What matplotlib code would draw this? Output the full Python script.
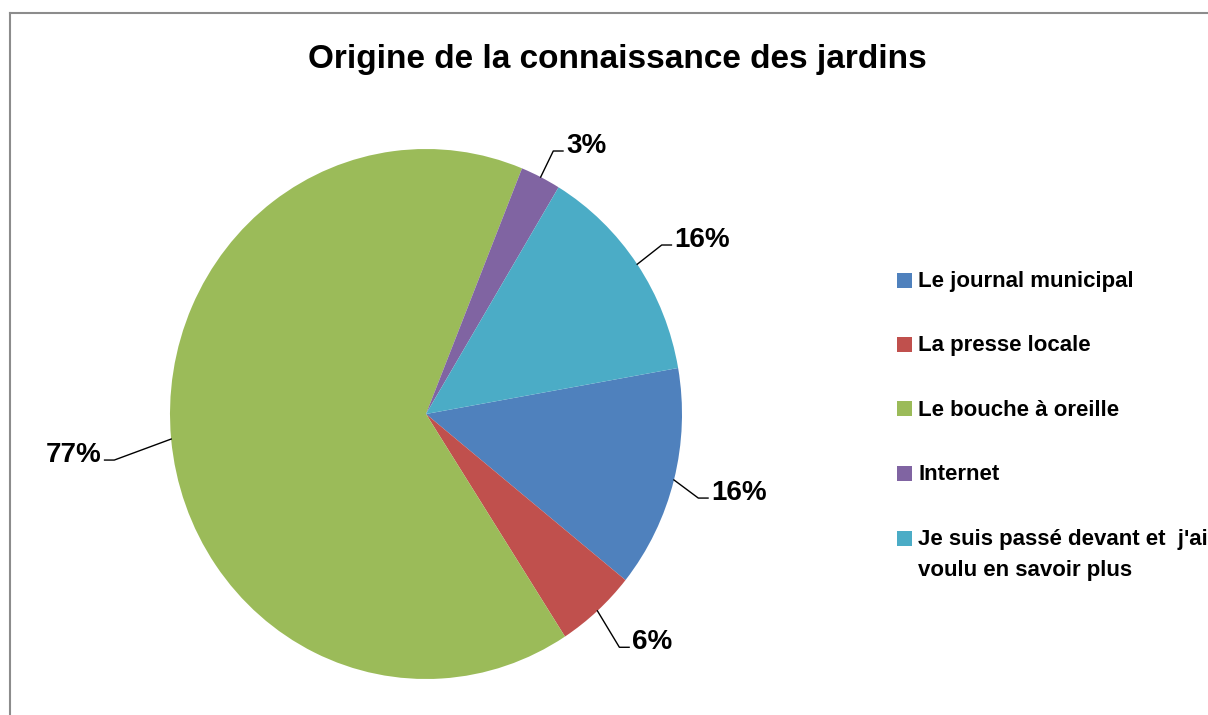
import matplotlib
matplotlib.use("Agg")
import matplotlib.pyplot as plt
from matplotlib import font_manager
from matplotlib.patches import Rectangle
from matplotlib.lines import Line2D
import numpy as np

title = "Origine de la connaissance des jardins"
categories = ["Le journal municipal", "La presse locale", "Le bouche à oreille",
              "Internet", "Je suis passé devant et  j'ai\nvoulu en savoir plus"]
percents = [16, 6, 77, 3, 16]
colors = ["#4F81BD", "#C0504D", "#9BBB59", "#8064A2", "#4BACC6"]

# where each leader line bends: distance in pie radii, angle nudge in degrees
elbow = [1.11, 1.16, 1.23, 1.11, 1.12]
nudge = [-2.2, -1.4, 2.7, 0.0, 0.3]

W, H = 1208, 715

# excel squeezes title and labels, a narrow face gets close if there is one
names = {f.name for f in font_manager.fontManager.ttflist}
if "Liberation Sans Narrow" in names:
    narrow = ["Liberation Sans Narrow", "Liberation Sans"]
    title_size, label_size = 29, 24
else:
    narrow = ["Liberation Sans", "DejaVu Sans"]
    title_size, label_size = 24, 20

plt.rcParams["font.family"] = ["Liberation Sans", "DejaVu Sans"]

fig = plt.figure(figsize=(W / 100, H / 100), dpi=100)

# chart area border (right/bottom edges run off the picture)
fig.add_artist(Line2D([10 / W, 10 / W], [0, 1 - 12.5 / H], transform=fig.transFigure,
                      color="#8c8c8c", lw=1.5))
fig.add_artist(Line2D([10 / W, 1], [1 - 12.5 / H, 1 - 12.5 / H], transform=fig.transFigure,
                      color="#8c8c8c", lw=1.5))

fig.text(617 / W, 1 - 68 / H, title, ha="center", va="baseline",
         fontsize=title_size, fontweight="bold", family=narrow)

# pie is a bit taller than wide in the original
ax = fig.add_axes([170 / W, 36 / H, 512 / W, 530 / H])
wedges, _ = ax.pie(percents, colors=colors, startangle=10, counterclock=False,
                   wedgeprops=dict(linewidth=0))
ax.set_aspect("auto")
ax.set_xlim(-1, 1)
ax.set_ylim(-1, 1)
ax.axis("off")

for w, pct, e, n in zip(wedges, percents, elbow, nudge):
    mid = (w.theta1 + w.theta2) / 2
    ang = np.deg2rad(mid)
    x0, y0 = np.cos(ang), np.sin(ang)
    bang = np.deg2rad(mid + n)
    x1, y1 = e * np.cos(bang), e * np.sin(bang)
    side = 1 if x1 > 0 else -1
    x2 = x1 + side * 0.038
    ax.plot([x0, x1, x2], [y0, y1, y1], color="black", lw=1, clip_on=False)
    ax.annotate(f"{pct}%", xy=(x2, y1), xytext=(side * 3, -1.5), textcoords="offset pixels",
                ha="left" if side > 0 else "right", va="baseline",
                fontsize=label_size, fontweight="bold", family=narrow, annotation_clip=False)

# legend drawn by hand so the two-line entry lines up like excel
y = 280
for name, col in zip(categories, colors):
    fig.patches.append(Rectangle((897 / W, 1 - (y + 7.5) / H), 15 / W, 15 / H,
                                 transform=fig.transFigure, facecolor=col, edgecolor="none"))
    fig.text(918 / W, 1 - (y - 9.4) / H, name, ha="left", va="top",
             fontsize=16, fontweight="bold", linespacing=1.68)
    y += 64.5

fig.savefig("out.png", dpi=100)
